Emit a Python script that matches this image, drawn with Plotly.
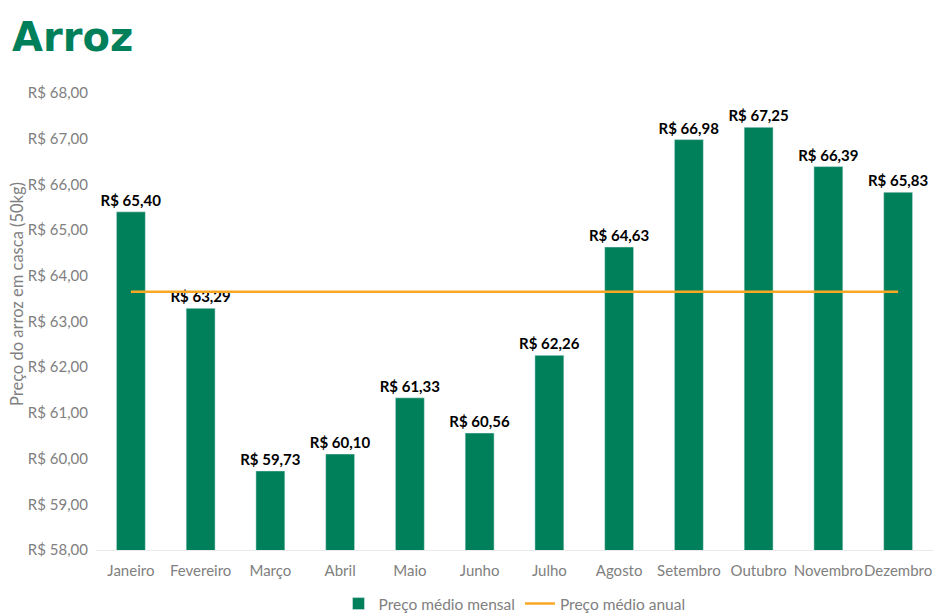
import plotly.graph_objects as go

meses = ["Janeiro", "Fevereiro", "Março", "Abril", "Maio", "Junho", "Julho",
         "Agosto", "Setembro", "Outubro", "Novembro", "Dezembro"]
preco_mensal = [65.40, 63.29, 59.73, 60.10, 61.33, 60.56, 62.26,
                64.63, 66.98, 67.25, 66.39, 65.83]
preco_anual = 63.65
tick_vals = [58, 59, 60, 61, 62, 63, 64, 65, 66, 67, 68]

def brl(v):
    return "R$ " + f"{v:.2f}".replace(".", ",")

W, H = 934, 606
L, R, T, B = 88, 9, 85, 64
PW = W - L - R
PH = H - T - B

fig = go.Figure()
fig.add_trace(go.Bar(
    x=meses, y=preco_mensal, name="Preço médio mensal",
    marker=dict(color="#00805A"),
    text=[brl(v) for v in preco_mensal], textposition="outside",
    constraintext="none",
    textfont=dict(family="Lato", size=15, color="#000000", weight=700),
    cliponaxis=False,
))
fig.add_trace(go.Scatter(
    x=meses, y=[preco_anual] * len(meses), name="Preço médio anual",
    mode="lines", line=dict(color="#F9A825", width=2.5),
))

fig.add_annotation(
    text="Preço do arroz em casca (50kg)", textangle=-90,
    xref="paper", yref="paper", x=(9 - L) / PW, y=(542 - 286) / PH,
    xanchor="center", yanchor="middle", showarrow=False,
    font=dict(family="Lato", size=16.5, color="#808080"),
)
fig.add_annotation(
    text="<b>Arroz</b>", xref="paper", yref="paper",
    x=(2 - L) / PW, y=1 + (T - 4) / PH, xanchor="left", yanchor="top",
    showarrow=False,
    font=dict(family="DejaVu Sans", size=40, color="#00805A"),
)

fig.update_layout(
    width=W, height=H,
    paper_bgcolor="white", plot_bgcolor="white",
    margin=dict(l=L, r=R, t=T, b=B, autoexpand=False),
    bargap=0.585,
    font=dict(family="Lato", color="#808080", size=15),
    xaxis=dict(showgrid=False, showline=True, linecolor="#EBEBEB", linewidth=1,
               ticks="", automargin=False, tickangle=0, ticklabelstandoff=7,
               tickfont=dict(size=15, color="#808080")),
    yaxis=dict(range=[58, 68], tickvals=tick_vals,
               ticktext=[brl(v) for v in tick_vals],
               showgrid=False, zeroline=False, showline=False, automargin=False,
               ticklabelstandoff=7,
               tickfont=dict(size=15, color="#808080")),
    legend=dict(orientation="h", x=0.5, xanchor="center", y=-(596 - 542) / PH,
                yanchor="middle",
                font=dict(size=15.5, color="#808080"), traceorder="normal"),
)

fig.write_html("out.html")
